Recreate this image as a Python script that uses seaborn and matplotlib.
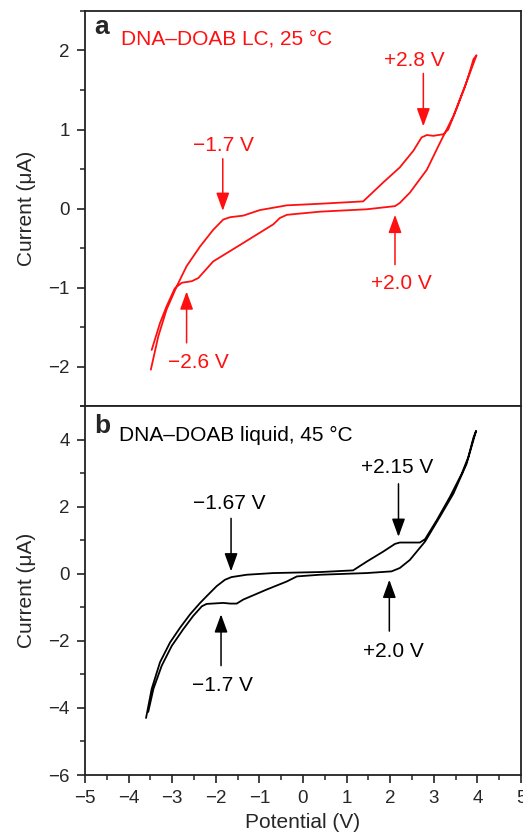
import numpy as np
import pandas as pd
import matplotlib
matplotlib.use("Agg")
import matplotlib.pyplot as plt
import seaborn as sns

# ---------------- data ----------------
# Panel a: DNA-DOAB LC, 25 C  (forward sweep then reverse sweep)
a_fwd_v = [-3.49, -3.32, -3.13, -2.90, -2.67, -2.36, -2.06, -1.83, -1.67, -1.37, -0.99, -0.37,
           0.39, 1.38, 1.84, 2.22, 2.53, 2.72, 2.84, 2.99, 3.22, 3.33, 3.52, 3.72, 3.83, 3.91, 3.98]
a_fwd_i = [-2.04, -1.62, -1.28, -0.99, -0.73, -0.48, -0.27, -0.14, -0.11, -0.09, -0.02, 0.04,
           0.06, 0.09, 0.33, 0.52, 0.73, 0.90, 0.93, 0.92, 0.94, 1.00, 1.26, 1.55, 1.74, 1.89, 1.94]
a_rev_v = [3.98, 3.75, 3.45, 3.14, 2.84, 2.45, 2.22, 2.11, 1.46, 0.39, -0.37, -0.53, -0.68,
           -1.44, -2.06, -2.40, -2.55, -2.78, -2.94, -3.13, -3.28, -3.47]
a_rev_i = [1.94, 1.60, 1.17, 0.83, 0.49, 0.20, 0.07, 0.03, -0.01, -0.04, -0.08, -0.12, -0.20,
           -0.46, -0.67, -0.88, -0.92, -0.94, -1.01, -1.24, -1.45, -1.79]

# Panel b: DNA-DOAB liquid, 45 C
b_fwd_v = [-3.60, -3.47, -3.28, -3.05, -2.82, -2.59, -2.36, -2.21, -1.98, -1.79, -1.64, -1.29,
           -0.68, 0.39, 1.15, 1.46, 1.84, 2.11, 2.22, 2.68, 2.80, 3.07, 3.37, 3.64, 3.79, 3.91, 3.97]
b_fwd_i = [-4.30, -3.43, -2.64, -2.05, -1.61, -1.21, -0.87, -0.67, -0.37, -0.18, -0.10, -0.03,
           0.02, 0.05, 0.10, 0.36, 0.66, 0.89, 0.93, 0.93, 1.03, 1.60, 2.29, 2.98, 3.47, 4.06, 4.26]
b_rev_v = [3.97, 3.75, 3.45, 3.14, 2.80, 2.45, 2.22, 2.03, 1.46, 0.39, -0.14, -0.37, -0.83,
           -1.37, -1.52, -1.67, -1.83, -2.21, -2.32, -2.52, -2.75, -3.01, -3.24, -3.43, -3.55]
b_rev_i = [4.26, 3.27, 2.39, 1.70, 0.96, 0.41, 0.17, 0.07, 0.02, -0.03, -0.08, -0.23, -0.47,
           -0.77, -0.89, -0.89, -0.87, -0.90, -0.97, -1.26, -1.66, -2.15, -2.74, -3.43, -4.12]

# annotations: label, text baseline position (V, I), arrow tail (V, I), arrow tip (V, I)
a_labels = ["\u22121.7 V", "+2.8 V", "+2.0 V", "\u22122.6 V"]
a_text_xy = [(-1.83, 0.725), (2.55, 1.805), (2.26, -1.015), (-2.40, -2.025)]
a_arrow_tail = [(-1.84, 0.63), (2.76, 1.71), (2.11, -0.71), (-2.67, -1.70)]
a_arrow_tip = [(-1.84, -0.03), (2.76, 1.04), (2.11, -0.08), (-2.67, -1.05)]

b_labels = ["\u22121.67 V", "+2.15 V", "+2.0 V", "\u22121.7 V"]
b_text_xy = [(-1.69, 1.92), (2.15, 3.00), (2.07, -2.47), (-1.84, -3.50)]
b_arrow_tail = [(-1.65, 1.65), (2.19, 2.68), (1.98, -1.71), (-1.88, -2.74)]
b_arrow_tip = [(-1.65, 0.07), (2.19, 1.10), (1.98, -0.18), (-1.88, -1.21)]

title_a = "DNA\u2013DOAB LC, 25 \u00b0C"
title_b = "DNA\u2013DOAB liquid, 45 \u00b0C"
xlabel = "Potential (V)"
ylabel = "Current (\u03bcA)"

# ---------------- style ----------------
sns.set_style("ticks")
plt.rcParams["font.family"] = ["Liberation Sans", "DejaVu Sans"]
plt.rcParams["axes.unicode_minus"] = True

W, H = 523, 836
fig = plt.figure(figsize=(W / 100, H / 100), dpi=100)
left, right = 85, 521
ax_a = fig.add_axes([left / W, (H - 406) / H, (right - left) / W, (406 - 11) / H])
ax_b = fig.add_axes([left / W, (H - 775) / H, (right - left) / W, (775 - 406) / H])


def loop_df(fv, fi, rv, ri):
    v = list(fv) + list(rv)
    i = list(fi) + list(ri)
    return pd.DataFrame({"V": v, "I": i, "order": np.arange(len(v))})


df_a = loop_df(a_fwd_v, a_fwd_i, a_rev_v, a_rev_i)
df_b = loop_df(b_fwd_v, b_fwd_i, b_rev_v, b_rev_i)

RED = "#ff1010"
sns.lineplot(data=df_a, x="V", y="I", sort=False, estimator=None, color=RED, lw=1.3, ax=ax_a)
sns.lineplot(data=df_b, x="V", y="I", sort=False, estimator=None, color="black", lw=1.3, ax=ax_b)

FS = 15
TFS = 13.5


def annotate(ax, labels, txy, tails, tips, color):
    for lab, t, a0, a1 in zip(labels, txy, tails, tips):
        ax.text(t[0], t[1], lab, color=color, fontsize=FS, ha="center", va="baseline")
        ax.annotate("", xy=a1, xytext=a0,
                    arrowprops=dict(arrowstyle="-|>,head_length=0.55,head_width=0.2",
                                    color=color, lw=1.1, shrinkA=0, shrinkB=0,
                                    mutation_scale=20))


annotate(ax_a, a_labels, a_text_xy, a_arrow_tail, a_arrow_tip, RED)
annotate(ax_b, b_labels, b_text_xy, b_arrow_tail, b_arrow_tip, "black")

ax_a.text(-4.62, 2.21, "a", fontsize=19, fontweight="bold", ha="center", va="baseline")
ax_a.text(-4.18, 2.07, title_a, fontsize=FS, color=RED, ha="left", va="baseline")
ax_b.text(-4.60, 4.21, "b", fontsize=19, fontweight="bold", ha="center", va="baseline")
ax_b.text(-4.21, 3.96, title_b, fontsize=FS, color="black", ha="left", va="baseline")

for ax in (ax_a, ax_b):
    ax.set_xlim(-5, 5)
    for s in ax.spines.values():
        s.set_visible(True)
        s.set_linewidth(1.3)
        s.set_color("#222222")
    ax.tick_params(which="major", direction="out", length=6, width=1.2, color="#222222",
                   labelsize=TFS, pad=5)
    ax.tick_params(which="minor", direction="out", length=3.5, width=1.1, color="#222222")
    ax.set_ylabel(ylabel, fontsize=FS)
    ax.yaxis.set_label_coords(-0.112, 0.5)

ax_a.set_ylim(-2.5, 2.5)
ax_a.set_yticks([-2, -1, 0, 1, 2])
ax_a.set_yticks(np.arange(-2.5, 2.51, 0.5), minor=True)
ax_a.tick_params(axis="x", which="both", bottom=False, labelbottom=False)
ax_a.set_xlabel("")

ax_b.set_ylim(-6, 5)
ax_b.set_yticks([-6, -4, -2, 0, 2, 4])
ax_b.set_yticks(np.arange(-6, 5.1, 1), minor=True)
ax_b.set_xticks(np.arange(-5, 5.1, 1))
ax_b.set_xticks(np.arange(-5, 5.1, 0.5), minor=True)
ax_b.set_xticklabels([f"{int(v)}".replace("-", "\u2212") for v in np.arange(-5, 6, 1)])
ax_b.set_xlabel(xlabel, fontsize=FS)
ax_b.xaxis.set_label_coords(0.5, -0.102)

fig.savefig("out.png", dpi=100)
